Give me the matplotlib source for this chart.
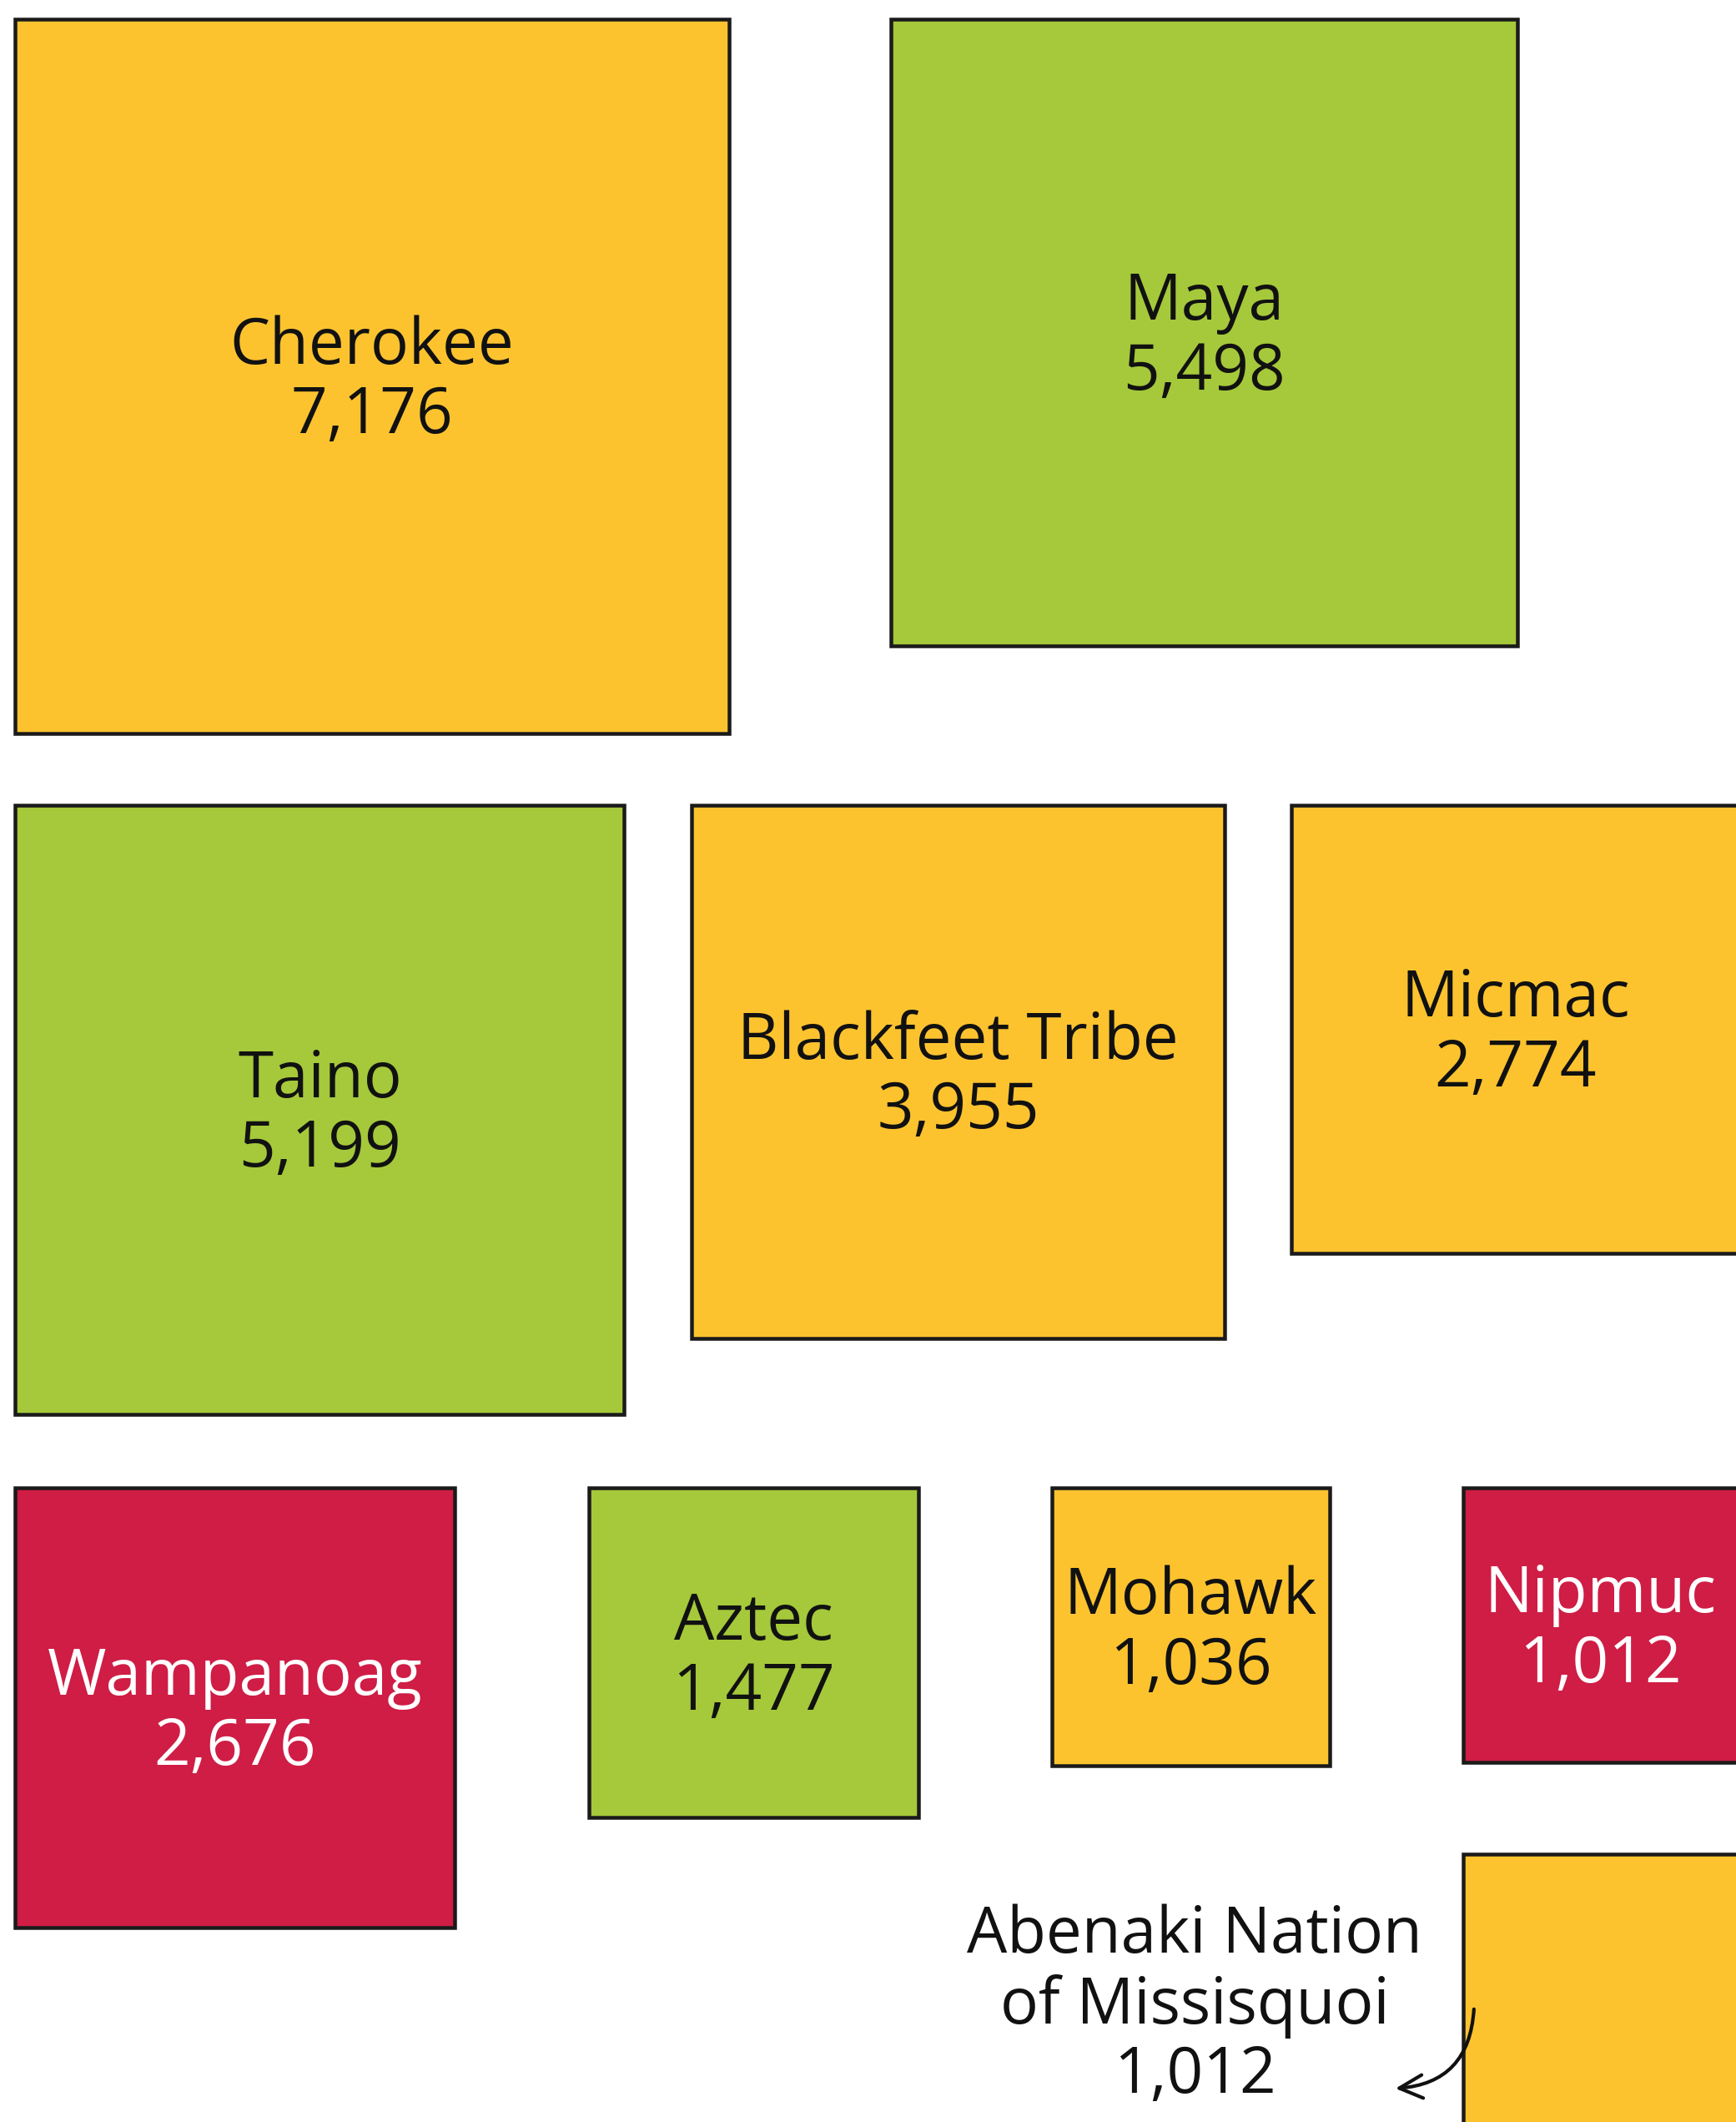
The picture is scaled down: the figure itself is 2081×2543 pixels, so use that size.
import numpy as np
import matplotlib.pyplot as plt
from matplotlib.patches import Rectangle

# data
tribes = ['Cherokee', 'Maya', 'Taino', 'Blackfeet Tribe', 'Micmac',
          'Wampanoag', 'Aztec', 'Mohawk', 'Nipmuc', 'Abenaki Nation\nof Missisquoi']
counts = [7176, 5498, 5199, 3955, 2774, 2676, 1477, 1036, 1012, 1012]
groups = ['yellow', 'green', 'green', 'yellow', 'yellow',
          'red', 'green', 'yellow', 'red', 'yellow']

# layout (top-left corner of each square, in pixels)
left = [16, 1066, 16, 827, 1546, 16, 704, 1259, 1752, 1752]
top = [21, 21, 963, 963, 963, 1781, 1781, 1781, 1781, 2220]

fill = {'yellow': '#FCC32F', 'green': '#A5C93A', 'red': '#CF1D45'}
ink = {'yellow': '#111111', 'green': '#111111', 'red': 'white'}

W, H = 2081, 2543
fig = plt.figure(figsize=(W / 100, H / 100), dpi=100)
ax = fig.add_axes([0, 0, 1, 1])
ax.set_xlim(0, W)
ax.set_ylim(H, 0)
ax.axis('off')

plt.rcParams['font.family'] = ['Open Sans', 'DejaVu Sans']

lw = 4.5  # px
fs = 55
for i in range(len(tribes)):
    # area proportional to count
    side = 9.96 * np.sqrt(counts[i]) + 16.5
    x0 = left[i] + lw / 2
    y0 = top[i] + lw / 2
    s = side - lw
    ax.add_patch(Rectangle((x0, y0), s, s, facecolor=fill[groups[i]],
                           edgecolor='#1a1a1a', linewidth=lw * 0.72, zorder=2))
    label = tribes[i] + '\n' + f'{counts[i]:,}'
    if i == len(tribes) - 1:
        # label sits outside the square with an arrow
        ax.text(1432, 2404, label, ha='center', va='center', fontsize=fs,
                color='#111111', linespacing=1.12, zorder=3)
        ax.annotate('', xy=(1670, 2503), xytext=(1767, 2405),
                    arrowprops=dict(arrowstyle='->', color='#111111', lw=3,
                                    mutation_scale=50,
                                    connectionstyle='arc3,rad=-0.45'),
                    zorder=4)
    else:
        ax.text(x0 + s / 2, y0 + s / 2 + 6, label, ha='center', va='center',
                fontsize=fs, color=ink[groups[i]], linespacing=1.12, zorder=3)

fig.savefig('out.png', dpi=100, facecolor='white')
